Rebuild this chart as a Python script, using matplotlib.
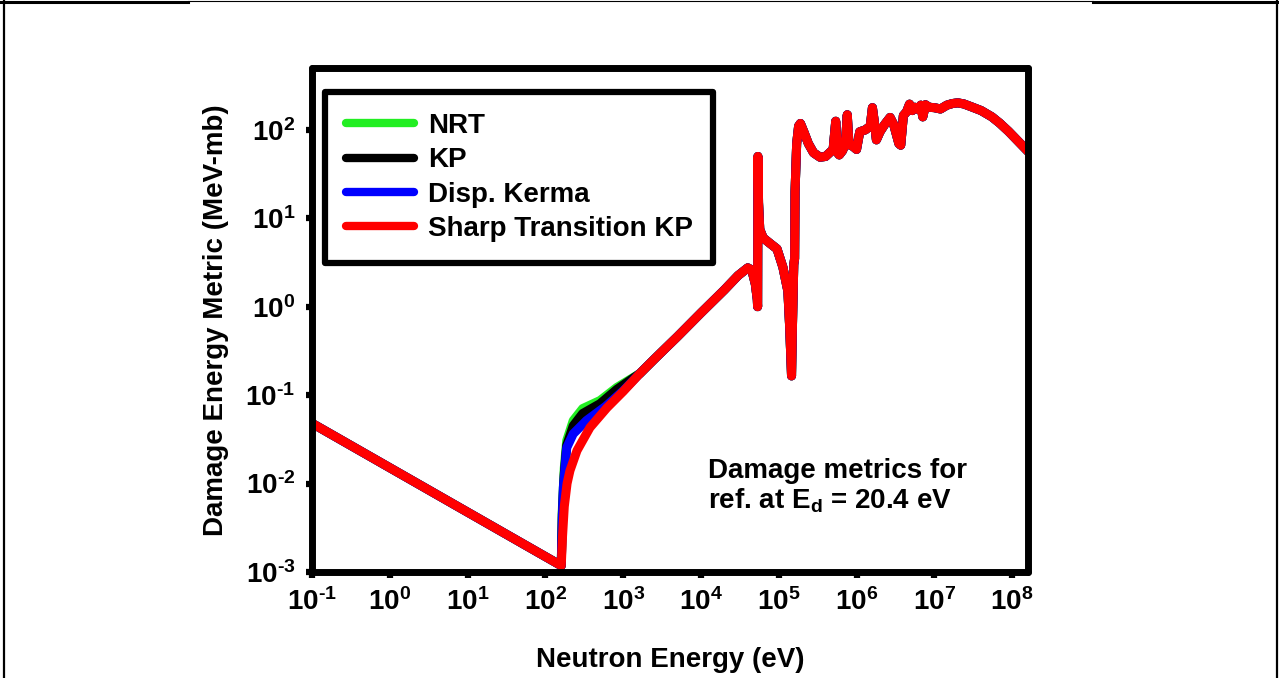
import matplotlib
matplotlib.use("Agg")
import matplotlib.pyplot as plt
from matplotlib.lines import Line2D

# Common branch below the threshold (1/v behaviour)
energy_low = [0.1, 160.0]
metric_low = [0.048, 0.00118]

# Threshold region, where the four metrics differ
nrt_energy = [165, 175, 188, 228, 302, 504, 828, 1644]
nrt_metric = [0.005, 0.015, 0.0305, 0.0515, 0.0705, 0.0869, 0.122, 0.176]

kp_energy = [165, 175, 188, 228, 302, 504, 828, 1644]
kp_metric = [0.0045, 0.013, 0.027, 0.045, 0.062, 0.080, 0.116, 0.176]

kerma_energy = [165, 170, 188, 228, 338, 600, 1000, 1644]
kerma_metric = [0.004, 0.0089, 0.0254, 0.0365, 0.0516, 0.075, 0.112, 0.176]

sharp_energy = [166, 175, 190, 207, 255, 374, 619, 1000, 1644]
sharp_metric = [0.0025, 0.0055, 0.010, 0.014, 0.0236, 0.043, 0.072, 0.11, 0.176]

# Common branch above the threshold (resonance region)
energy_high = [2500, 5000, 1e4, 2e4, 3e4, 4.0e4, 4.5e4, 5.0e4, 5.3e4, 5.35e4,
               5.4e4, 5.5e4, 5.7e4, 6.3e4, 7.5e4, 9.5e4, 1.13e5, 1.31e5, 1.38e5,
               1.46e5, 1.5e5, 1.56e5, 1.6e5, 1.62e5, 1.7e5, 1.8e5, 1.9e5, 2.1e5,
               2.4e5, 2.8e5, 3.4e5, 4.0e5, 4.5e5, 5.0e5, 5.4e5, 5.7e5, 6.0e5,
               6.6e5, 7.2e5, 7.6e5, 8.0e5, 9.0e5, 1.0e6, 1.1e6, 1.3e6, 1.5e6,
               1.6e6, 1.7e6, 1.8e6, 2.0e6, 2.3e6, 2.7e6, 3.0e6, 3.5e6, 3.7e6,
               4.0e6, 4.4e6, 4.8e6, 5.2e6, 5.6e6, 6.2e6, 6.7e6, 7.1e6, 7.7e6,
               8.5e6, 1.0e7, 1.2e7, 1.45e7, 1.7e7, 2.0e7, 2.4e7, 3.0e7, 4.0e7,
               5.5e7, 7.0e7, 9.0e7, 1.2e8, 1.6e8]
metric_high = [0.254, 0.46, 0.85, 1.55, 2.25, 2.75, 2.6, 1.8, 1.2, 1.0,
               50, 15, 7.5, 6.0, 5.3, 4.5, 2.8, 1.5, 0.6,
               0.165, 0.6, 3.0, 3.5, 20, 70, 110, 118, 95,
               70, 55, 49, 50, 55, 60, 125, 55, 52,
               58, 70, 148, 68, 65, 60, 95, 100, 110,
               178, 120, 77, 95, 115, 138, 115, 70, 67,
               145, 160, 195, 165, 180, 170, 190, 140, 192,
               180, 178, 172, 190, 198, 202, 196, 182, 165,
               140, 118, 96, 74, 57]

labels = ['NRT', 'KP', 'Disp. Kerma', 'Sharp Transition KP']
colors = ['#22ee22', '#000000', '#0000ff', '#ff0000']
thresholds = [(nrt_energy, nrt_metric), (kp_energy, kp_metric),
              (kerma_energy, kerma_metric), (sharp_energy, sharp_metric)]

x_ticks = [1e-1, 1e0, 1e1, 1e2, 1e3, 1e4, 1e5, 1e6, 1e7, 1e8]
x_tick_labels = ['$10^{\\text{-}1}$', '$10^{0}$', '$10^{1}$', '$10^{2}$', '$10^{3}$',
                 '$10^{4}$', '$10^{5}$', '$10^{6}$', '$10^{7}$', '$10^{8}$']
y_ticks = [1e-3, 1e-2, 1e-1, 1e0, 1e1, 1e2]
y_tick_labels = ['$10^{\\text{-}3}$', '$10^{\\text{-}2}$', '$10^{\\text{-}1}$',
                 '$10^{0}$', '$10^{1}$', '$10^{2}$']

plt.rcParams['font.family'] = 'Liberation Sans'
plt.rcParams['font.weight'] = 'bold'
plt.rcParams['mathtext.fontset'] = 'custom'
plt.rcParams['mathtext.rm'] = 'Liberation Sans:bold'
plt.rcParams['mathtext.it'] = 'Liberation Sans:bold'
plt.rcParams['mathtext.bf'] = 'Liberation Sans:bold'
plt.rcParams['mathtext.default'] = 'rm'

fig = plt.figure(figsize=(12.79, 6.78), dpi=100)
ax = fig.add_axes([312 / 1279, 1 - 572 / 678, 716 / 1279, 504 / 678])

for (e_thr, m_thr), label, color in zip(thresholds, labels, colors):
    energy = energy_low + e_thr + energy_high
    metric = metric_low + m_thr + metric_high
    ax.plot(energy, metric, color=color, lw=6.5, label=label,
            solid_joinstyle='round', solid_capstyle='round')

ax.set_xscale('log')
ax.set_yscale('log')
ax.set_xlim(0.1, 1.6e8)
ax.set_ylim(1e-3, 500)
ax.set_xticks(x_ticks)
ax.set_xticklabels(x_tick_labels)
ax.set_yticks(y_ticks)
ax.set_yticklabels(y_tick_labels)
ax.minorticks_off()
ax.tick_params(which='major', direction='out', length=4, width=4.5,
               pad=8, labelsize=20)

for spine in ax.spines.values():
    spine.set_linewidth(5)
    spine.set_capstyle('round')

ax.set_xlabel('Neutron Energy (eV)', fontsize=20, fontweight='bold')
ax.set_ylabel('Damage Energy Metric (MeV-mb)', fontsize=20, fontweight='bold')
ax.xaxis.set_label_coords(0.5, -0.148)
ax.yaxis.set_label_coords(-0.116, 0.5)

ax.text(0.553, 0.226, 'Damage metrics for\nref. at E$_{d}$ = 20.4 eV',
        transform=ax.transAxes, fontsize=20, fontweight='bold',
        ha='left', va='top', linespacing=1.1)

leg = ax.legend(loc='upper left', bbox_to_anchor=(0.018, 0.952),
                borderaxespad=0, fontsize=20, handlelength=2.45,
                handletextpad=0.5, labelspacing=0.3, borderpad=0.75,
                fancybox=False, framealpha=1)
frame = leg.get_frame()
frame.set_edgecolor('black')
frame.set_linewidth(4.5)
frame.set_joinstyle('round')
for handle in leg.get_lines():
    handle.set_linewidth(6)
    handle.set_solid_capstyle('round')

# page border seen in the screenshot
fig.add_artist(Line2D([3.5 / 1279, 3.5 / 1279], [0, 1], color='black', lw=1.6,
                      transform=fig.transFigure))
fig.add_artist(Line2D([1276.5 / 1279, 1276.5 / 1279], [0, 1], color='black', lw=1.6,
                      transform=fig.transFigure))
fig.add_artist(Line2D([0, 188 / 1279], [1 - 1.5 / 678] * 2, color='black', lw=2.2,
                      transform=fig.transFigure))
fig.add_artist(Line2D([188 / 1279, 1093 / 1279], [1 - 1 / 678] * 2, color='black', lw=0.8,
                      transform=fig.transFigure))
fig.add_artist(Line2D([1093 / 1279, 1], [1 - 1.5 / 678] * 2, color='black', lw=2.2,
                      transform=fig.transFigure))

fig.savefig('out.png', dpi=100)
